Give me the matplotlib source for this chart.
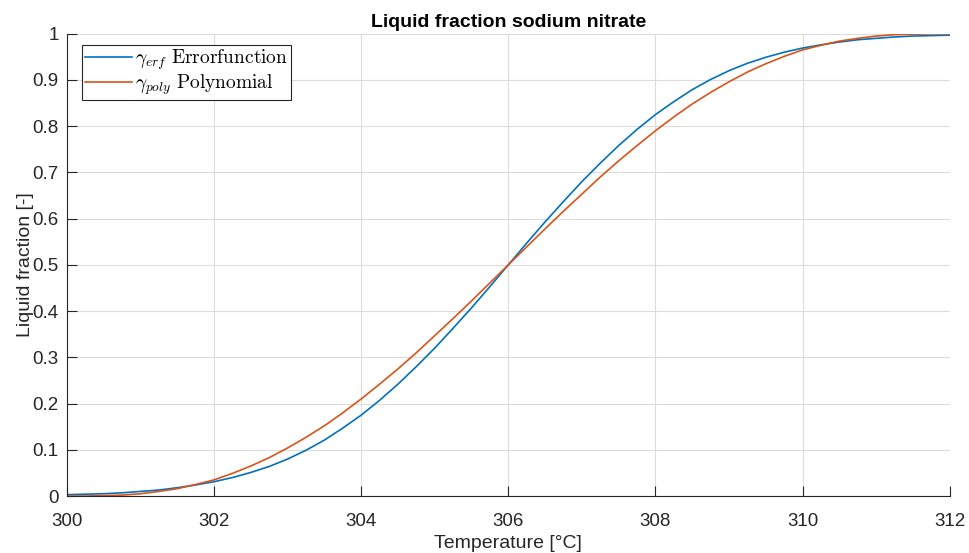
import numpy as np
import matplotlib
matplotlib.use("Agg")
import matplotlib.pyplot as plt

# Temperature samples [°C]
temperature = [300.0 + 0.25 * i for i in range(49)]

# gamma_erf (Errorfunction)
gamma_erf = [0.003, 0.004, 0.005, 0.007, 0.010, 0.013, 0.018, 0.024, 0.031, 0.040,
             0.051, 0.064, 0.080, 0.099, 0.121, 0.147, 0.175, 0.207, 0.242, 0.280,
             0.320, 0.363, 0.407, 0.453, 0.500, 0.547, 0.593, 0.637, 0.680, 0.720,
             0.758, 0.793, 0.825, 0.853, 0.879, 0.901, 0.920, 0.936, 0.949, 0.960,
             0.969, 0.976, 0.982, 0.987, 0.990, 0.993, 0.995, 0.996, 0.997]

# gamma_poly (Polynomial)
gamma_poly = [0.000, 0.000, 0.001, 0.002, 0.005, 0.010, 0.016, 0.025, 0.035, 0.049,
              0.065, 0.083, 0.104, 0.127, 0.152, 0.180, 0.210, 0.242, 0.275, 0.310,
              0.347, 0.384, 0.422, 0.461, 0.500, 0.539, 0.578, 0.616, 0.653, 0.690,
              0.725, 0.758, 0.790, 0.820, 0.848, 0.873, 0.896, 0.917, 0.935, 0.951,
              0.965, 0.975, 0.984, 0.990, 0.995, 0.998, 0.999, 1.000, 1.000]

x_ticks = [300, 302, 304, 306, 308, 310, 312]
x_ticklabels = ["300", "302", "304", "306", "308", "310", "312"]
y_ticks = [0, 0.1, 0.2, 0.3, 0.4, 0.5, 0.6, 0.7, 0.8, 0.9, 1]
y_ticklabels = ["0", "0.1", "0.2", "0.3", "0.4", "0.5", "0.6", "0.7", "0.8", "0.9", "1"]

plt.rcParams['font.family'] = ['Liberation Sans', 'DejaVu Sans']
plt.rcParams['mathtext.fontset'] = 'cm'

txt = '#262626'
fig = plt.figure(figsize=(9.70, 5.53), dpi=100)
ax = fig.add_axes([0.069, 0.103, 0.910, 0.836])

ax.plot(temperature, gamma_erf, color='#0072BD', lw=1.2,
        label=r'$\gamma_{erf}\ \mathrm{Errorfunction}$')
ax.plot(temperature, gamma_poly, color='#D95319', lw=1.2,
        label=r'$\gamma_{poly}\ \mathrm{Polynomial}$')

ax.set_xlim(300, 312)
ax.set_ylim(0, 1)
ax.set_xticks(x_ticks)
ax.set_xticklabels(x_ticklabels)
ax.set_yticks(y_ticks)
ax.set_yticklabels(y_ticklabels)
ax.tick_params(direction='in', length=7, width=0.8, colors=txt, labelsize=13.5,
               top=False, right=False)
ax.tick_params(axis='x', pad=12)
ax.tick_params(axis='y', pad=6)
ax.grid(True, color='#dcdcdc', lw=0.8)
ax.set_axisbelow(True)
for s in ['top', 'right']:
    ax.spines[s].set_visible(False)
for s in ['left', 'bottom']:
    ax.spines[s].set_color(txt)
    ax.spines[s].set_linewidth(0.8)

ax.set_xlabel('Temperature [°C]', fontsize=14, color=txt, labelpad=4)
ax.set_ylabel('Liquid fraction [-]', fontsize=14, color=txt, labelpad=-1)
ax.set_title('Liquid fraction sodium nitrate', fontsize=14, fontweight='bold',
             color='black', pad=5)

leg = ax.legend(loc='upper left', bbox_to_anchor=(0.017, 0.976), fontsize=14,
                fancybox=False, framealpha=1, edgecolor='#262626',
                handlelength=2.4, handletextpad=0.2, borderpad=0.15,
                labelspacing=0.0, borderaxespad=0.0)
leg.get_frame().set_linewidth(0.8)

fig.savefig('out.png', dpi=100)
